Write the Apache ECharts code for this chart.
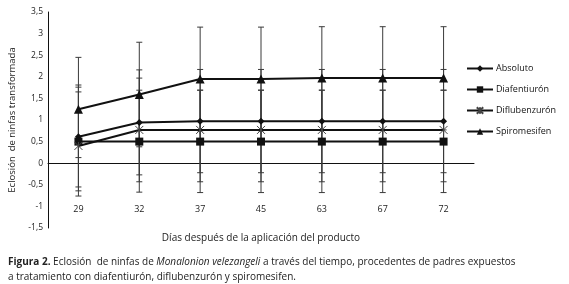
<!DOCTYPE html>
<html>
<head>
<meta charset="utf-8">
<script src="https://cdn.jsdelivr.net/npm/echarts@6/dist/echarts.min.js"></script>
<style>
  html, body { margin: 0; padding: 0; background: #fff; }
  #chart { width: 569px; height: 284px; }
</style>
</head>
<body>
<div id="chart"></div>
<script>
// días después de la aplicación
const days = ["29", "32", "37", "45", "63", "67", "72"];

// medias por tratamiento
const absoluto = [0.61, 0.94, 0.97, 0.97, 0.97, 0.97, 0.97];
const diafentiuron = [0.5, 0.5, 0.5, 0.5, 0.5, 0.5, 0.5];
const diflubenzuron = [0.4, 0.77, 0.77, 0.77, 0.77, 0.77, 0.77];
const spiromesifen = [1.25, 1.59, 1.95, 1.95, 1.97, 1.97, 1.97];

// barras de error (límite inferior / superior)
const absolutoLow = [-0.64, -0.43, -0.43, -0.43, -0.43, -0.43, -0.43];
const absolutoHigh = [1.81, 2.16, 2.17, 2.17, 2.17, 2.17, 2.17];
const diafentiuronLow = [-0.55, -0.67, -0.68, -0.68, -0.68, -0.68, -0.68];
const diafentiuronHigh = [1.65, 1.69, 1.69, 1.69, 1.69, 1.69, 1.69];
const diflubenzuronLow = [-0.76, -0.27, -0.22, -0.22, -0.22, -0.22, -0.22];
const diflubenzuronHigh = [1.76, 1.97, 1.69, 1.69, 1.69, 1.69, 1.69];
const spiromesifenLow = [0.13, 0.38, 0.75, 0.75, 0.77, 0.77, 0.77];
const spiromesifenHigh = [2.45, 2.8, 3.15, 3.15, 3.16, 3.16, 3.16];

const FONT = "Open Sans";
const asterisk = "path://M0,0L10,10M10,0L0,10M5,0L5,10";

const errorData = (low, high) => days.map((d, i) => [i, low[i], high[i]]);

const renderError = (params, api) => {
  const lo = api.coord([api.value(0), api.value(1)]);
  const hi = api.coord([api.value(0), api.value(2)]);
  const w = 3;
  const style = { stroke: "#3a3a3a", lineWidth: 1 };
  return {
    type: "group",
    children: [
      { type: "line", shape: { x1: lo[0], y1: lo[1], x2: hi[0], y2: hi[1] }, style },
      { type: "line", shape: { x1: lo[0] - w, y1: lo[1], x2: lo[0] + w, y2: lo[1] }, style },
      { type: "line", shape: { x1: hi[0] - w, y1: hi[1], x2: hi[0] + w, y2: hi[1] }, style },
    ],
  };
};

const errorSeries = (low, high) => ({
  type: "custom",
  renderItem: renderError,
  data: errorData(low, high),
  encode: { x: 0, y: [1, 2] },
  z: 1,
  silent: true,
});

const lineSeries = (name, data, symbol, size, extra) => ({
  name,
  type: "line",
  data,
  symbol,
  symbolSize: size,
  showAllSymbol: true,
  lineStyle: { color: "#111", width: 2 },
  itemStyle: Object.assign({ color: "#111" }, extra || {}),
  z: 3,
});

const chart = echarts.init(document.getElementById("chart"));

const txt = { fontFamily: FONT, fontSize: 10, color: "#222", fontWeight: "normal", lineHeight: 15 };

chart.setOption({
  animation: false,
  textStyle: { fontFamily: FONT },
  title: {
    left: 8,
    top: 255,
    padding: 0,
    text:
      "{b|Figura 2.}{n| Eclosión  de ninfas de }{i|Monalonion velezangeli}{n| a través del tiempo, procedentes de padres expuestos}\n" +
      "{n|a tratamiento con diafentiurón, diflubenzurón y spiromesifen.}",
    textStyle: {
      fontSize: 10,
      fontWeight: "normal",
      lineHeight: 15,
      rich: {
        b: Object.assign({}, txt, { fontWeight: "bold" }),
        n: txt,
        i: Object.assign({}, txt, { fontStyle: "italic" }),
      },
    },
  },
  legend: {
    orient: "vertical",
    left: 461,
    top: 59,
    itemWidth: 26,
    itemHeight: 8,
    itemGap: 12,
    data: ["Absoluto", "Diafentiurón", "Diflubenzurón", "Spiromesifen"],
    textStyle: { fontFamily: FONT, fontSize: 9, color: "#111", padding: [0, 0, 0, -2] },
  },
  grid: { left: 48, right: 95, top: 12, bottom: 56, containLabel: false, outerBoundsMode: "none" },
  xAxis: {
    type: "category",
    data: days,
    boundaryGap: true,
    axisLine: { onZero: true, lineStyle: { color: "#111", width: 1 } },
    axisTick: { show: false },
    axisLabel: { margin: -23, fontFamily: FONT, fontSize: 9, color: "#222" },
    name: "Días después de la aplicación del producto",
    nameLocation: "middle",
    nameGap: 5,
    nameTextStyle: { fontFamily: FONT, fontSize: 10, color: "#222" },
  },
  yAxis: {
    type: "value",
    min: -1.5,
    max: 3.5,
    interval: 0.5,
    axisLine: { show: true, lineStyle: { color: "#111", width: 1 } },
    axisTick: { show: false },
    splitLine: { show: false },
    axisLabel: {
      margin: 5,
      fontFamily: FONT,
      fontSize: 8.5,
      color: "#222",
      formatter: (v) => String(v).replace(".", ","),
    },
    name: "Eclosión  de ninfas transformada",
    nameLocation: "middle",
    nameGap: 25,
    nameTextStyle: { fontFamily: FONT, fontSize: 9.5, color: "#222" },
  },
  series: [
    errorSeries(spiromesifenLow, spiromesifenHigh),
    errorSeries(absolutoLow, absolutoHigh),
    errorSeries(diflubenzuronLow, diflubenzuronHigh),
    errorSeries(diafentiuronLow, diafentiuronHigh),
    lineSeries("Absoluto", absoluto, "diamond", 7),
    lineSeries("Diafentiurón", diafentiuron, "rect", 8),
    lineSeries("Diflubenzurón", diflubenzuron, asterisk, 8, { borderColor: "#444", borderWidth: 1 }),
    lineSeries("Spiromesifen", spiromesifen, "triangle", 9),
  ],
});
</script>
</body>
</html>
